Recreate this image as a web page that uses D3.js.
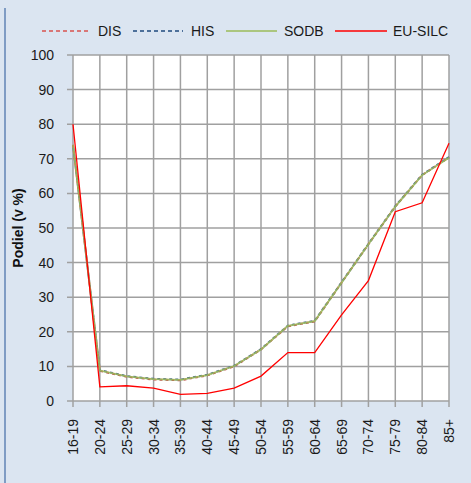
<!DOCTYPE html>
<html><head><meta charset="utf-8">
<script src="https://cdn.jsdelivr.net/npm/d3@7"></script>
<style>body{margin:0;background:#dbe5f1;}svg{display:block;}</style>
</head><body>
<script>
const categories = ["16-19","20-24","25-29","30-34","35-39","40-44","45-49","50-54","55-59","60-64","65-69","70-74","75-79","80-84","85+"];
const dis    = [74, 8.7, 7.0, 6.2, 6.0, 7.4, 10.0, 14.9, 21.6, 23.0, 34.2, 45.3, 56.2, 65.3, 70.4];
const his    = [74, 8.9, 7.2, 6.4, 6.2, 7.6, 10.2, 15.0, 21.8, 23.2, 34.3, 45.4, 56.3, 65.4, 70.5];
const sodb   = [74, 8.8, 7.1, 6.3, 6.1, 7.5, 10.1, 14.9, 21.7, 23.1, 34.2, 45.3, 56.2, 65.3, 70.3];
const euSilc = [80, 4.1, 4.4, 3.7, 1.9, 2.2, 3.7, 7.2, 14.0, 14.0, 24.9, 34.8, 54.7, 57.3, 74.5];
const yTicks = [0,10,20,30,40,50,60,70,80,90,100];
const seriesNames = ["DIS","HIS","SODB","EU-SILC"];

const W = 471, H = 483;
const svg = d3.select("body").append("svg").attr("width", W).attr("height", H);
svg.append("rect").attr("width", W).attr("height", H).attr("fill", "#dbe5f1");
svg.append("rect").attr("x", 4).attr("y", 8).attr("width", 2).attr("height", H - 8).attr("fill", "#7f9cc4");

const x = d3.scalePoint().domain(categories).range([73, 449]);
const y = d3.scaleLinear().domain([0, 100]).range([401, 55]);

svg.append("rect").attr("x", 73).attr("y", 55).attr("width", 376).attr("height", 346).attr("fill", "#fff");

const font = "'Liberation Sans', Arial, sans-serif";
const gridColor = "#a0a0a0";

// grid
svg.append("g").selectAll("line").data(yTicks).join("line")
  .attr("x1", 67).attr("x2", 449).attr("y1", d => y(d)).attr("y2", d => y(d))
  .attr("stroke", gridColor).attr("stroke-width", 1.5);
svg.append("g").selectAll("line").data(categories).join("line")
  .attr("x1", d => x(d)).attr("x2", d => x(d)).attr("y1", 55).attr("y2", 407)
  .attr("stroke", gridColor).attr("stroke-width", 1.5);

// y axis labels
svg.append("g").selectAll("text").data(yTicks).join("text")
  .attr("x", 54).attr("y", d => y(d)).attr("dy", "0.35em").attr("text-anchor", "end")
  .attr("font-family", font).attr("font-size", 14).attr("fill", "#1a1a1a").text(d => d);

// x axis labels
svg.append("g").selectAll("text").data(categories).join("text")
  .attr("transform", d => `translate(${x(d) + 5},${419}) rotate(-90)`)
  .attr("text-anchor", "end")
  .attr("font-family", font).attr("font-size", 14).attr("fill", "#1a1a1a").text(d => d);

// y title
svg.append("text").attr("transform", "translate(23,228) rotate(-90)")
  .attr("text-anchor", "middle").attr("font-family", font).attr("font-size", 14)
  .attr("font-weight", "bold").attr("fill", "#111").text("Podiel (v %)");

const line = d3.line().x((d, i) => x(categories[i])).y(d => y(d));
svg.append("path").datum(dis).attr("d", line).attr("fill", "none")
  .attr("stroke", "#c0504d").attr("stroke-width", 2).attr("stroke-dasharray", "3,3");
svg.append("path").datum(his).attr("d", line).attr("fill", "none")
  .attr("stroke", "#4f6b8f").attr("stroke-width", 2).attr("stroke-dasharray", "3,3").attr("stroke-dashoffset", 3);
svg.append("path").datum(sodb).attr("d", line).attr("fill", "none")
  .attr("stroke", "#9bbb59").attr("stroke-width", 1.8).attr("stroke-opacity", 0.85);
svg.append("path").datum(euSilc).attr("d", line).attr("fill", "none")
  .attr("stroke", "#ff0000").attr("stroke-width", 1.3);

// legend
const legend = [
  {name: seriesNames[0], color: "#d9534f", dash: "4,3", x1: 42, x2: 90, tx: 98},
  {name: seriesNames[1], color: "#1f497d", dash: "4,3", x1: 133, x2: 183, tx: 191},
  {name: seriesNames[2], color: "#9bbb59", dash: null, x1: 226, x2: 277, tx: 284},
  {name: seriesNames[3], color: "#ff0000", dash: null, x1: 335, x2: 387, tx: 393}
];
const lg = svg.append("g");
legend.forEach(l => {
  lg.append("line").attr("x1", l.x1).attr("x2", l.x2).attr("y1", 31).attr("y2", 31)
    .attr("stroke", l.color).attr("stroke-width", 1.3).attr("stroke-dasharray", l.dash);
  lg.append("text").attr("x", l.tx).attr("y", 31).attr("dy", "0.35em")
    .attr("font-family", font).attr("font-size", 14).attr("fill", "#1a1a1a").text(l.name);
});
</script>
</body></html>
